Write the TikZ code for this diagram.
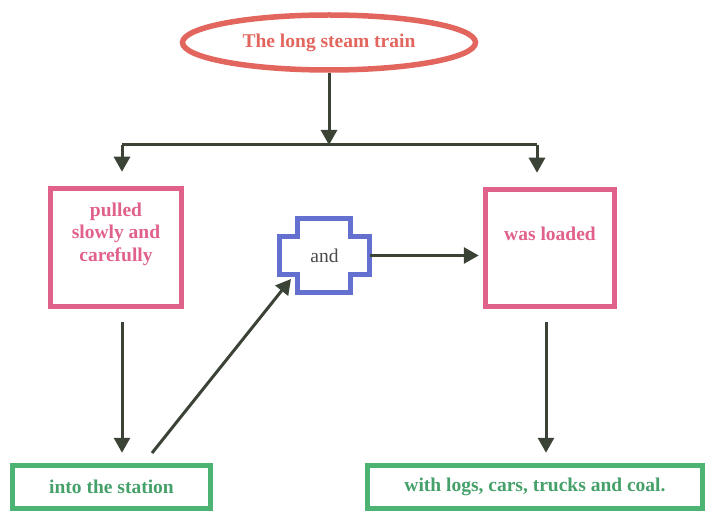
\documentclass[tikz,border=0pt]{standalone}
\usepackage{fontspec}
\setmainfont{Liberation Serif}
\usetikzlibrary{arrows.meta,shapes.geometric}
\definecolor{ellred}{HTML}{E2665E}
\definecolor{pinkb}{HTML}{E0628A}
\definecolor{blueb}{HTML}{6470CF}
\definecolor{greenb}{HTML}{4DB373}
\definecolor{greent}{HTML}{46A06A}
\definecolor{arrowc}{HTML}{3B4236}
\definecolor{andtxt}{HTML}{4A4A4A}
\begin{document}
\begin{tikzpicture}[x=1pt,y=-1pt,
  txt/.style={font=\fontsize{19.5}{22.5}\selectfont\bfseries},
  pinkbox/.style={draw=pinkb,line width=5.5pt,rectangle,inner sep=0pt},
  greenbox/.style={draw=greenb,line width=5.5pt,rectangle,inner sep=0pt,minimum height=43pt,
    text=greent,txt},
  conn/.style={draw=arrowc,line width=3pt},
  arr/.style={conn,-{Triangle[length=15pt,width=16pt]}}
]
\useasboundingbox (0,0) rectangle (707,513);
% ellipse
\node[ellipse,draw=ellred,line width=5.5pt,minimum width=293pt,minimum height=55pt,inner sep=0pt,
  text=ellred,txt] (train) at (329,42.5) {The long steam train};
% split
\coordinate (split) at (329,145);
\coordinate (sl) at (122,145);
\coordinate (sr) at (537,145);
% pink boxes
\node[pinkbox,minimum width=131pt,minimum height=118pt] (pulled) at (116,247.5) {};
\node[txt,text=pinkb,align=center] (pulledt) at (116,234) {pulled\\slowly and\\carefully};
\node[pinkbox,minimum width=129pt,minimum height=117pt] (loaded) at (550,248) {};
\node[txt,text=pinkb] (loadedt) at (550,234) {was loaded};
% cross
\node[minimum width=90pt,minimum height=74pt,inner sep=0pt] (andn) at (324.5,255.5)
  {\fontsize{19.5}{22}\selectfont\color{andtxt}and};
\draw[draw=blueb,line width=5.5pt,line join=miter]
  (297.5,218.5) -- (350.5,218.5) -- (350.5,236.5) -- (369.5,236.5) -- (369.5,274.5)
  -- (350.5,274.5) -- (350.5,292.5) -- (297.5,292.5) -- (297.5,274.5) -- (279.5,274.5)
  -- (279.5,236.5) -- (297.5,236.5) -- cycle;
\coordinate (andcorner) at (291,279);
% green boxes
\node[greenbox,minimum width=198pt] (station) at (111.5,487) {into the station};
\node[greenbox,minimum width=335pt] (coal) at (535,487) {with logs, cars, trucks and coal.};
% connectors
\draw[arr] (train.south) -- (split);
\draw[conn] (sl) -- (sr);
\draw[arr,shorten >=14pt] (sl) -- (sl |- pulled.north);
\draw[arr,shorten >=14pt] (sr) -- (sr |- loaded.north);
\coordinate (pl) at (122,322);
\draw[arr,shorten >=10pt] (pl) -- (pl |- station.north);
\coordinate (lr) at (546,322);
\draw[arr,shorten >=10pt] (lr) -- (lr |- coal.north);
\coordinate (diag) at (152,453);
\draw[arr] (diag) -- (andcorner);
\draw[arr,shorten >=4pt] (andn.east) -- (andn.east -| loaded.west);
\end{tikzpicture}
\end{document}
